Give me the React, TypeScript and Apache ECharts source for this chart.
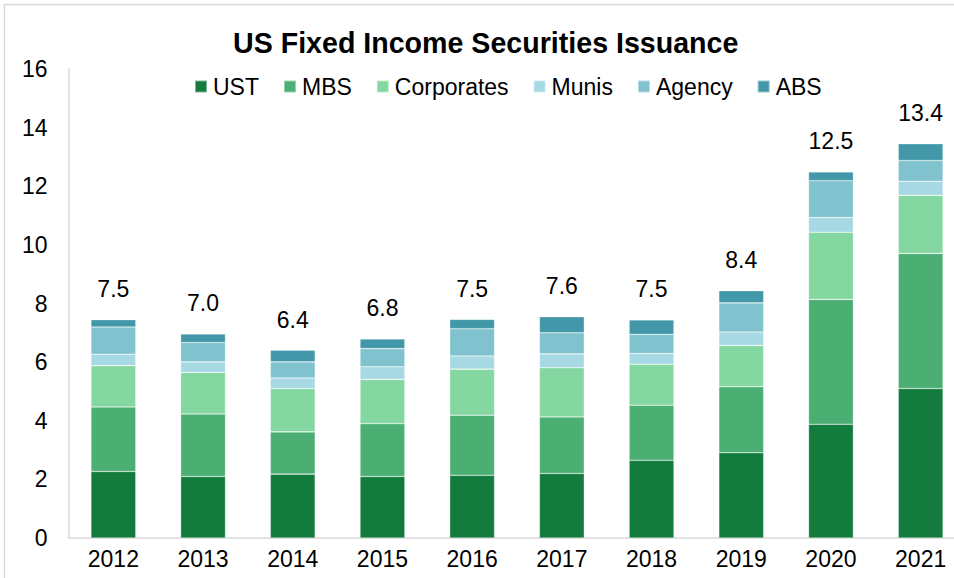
import React, { useEffect, useRef } from "react";
import * as echarts from "echarts";

const years = ["2012", "2013", "2014", "2015", "2016", "2017", "2018", "2019", "2020", "2021"];
const ust = [2.27, 2.10, 2.18, 2.10, 2.14, 2.20, 2.65, 2.91, 3.88, 5.10];
const mbs = [2.20, 2.13, 1.44, 1.80, 2.05, 1.93, 1.88, 2.25, 4.26, 4.61];
const corporates = [1.41, 1.42, 1.48, 1.51, 1.57, 1.68, 1.40, 1.41, 2.29, 1.98];
const munis = [0.39, 0.36, 0.36, 0.43, 0.45, 0.47, 0.36, 0.46, 0.50, 0.48];
const agency = [0.93, 0.66, 0.55, 0.62, 0.93, 0.72, 0.66, 0.99, 1.26, 0.71];
const abs = [0.25, 0.29, 0.40, 0.33, 0.32, 0.55, 0.49, 0.42, 0.30, 0.57];
const totals = ["7.5", "7.0", "6.4", "6.8", "7.5", "7.6", "7.5", "8.4", "12.5", "13.4"];
const seriesNames = ["UST", "MBS", "Corporates", "Munis", "Agency", "ABS"];
const seriesColors = ["#137B3D", "#4BAE72", "#85D7A1", "#A6D9E3", "#80C3CF", "#4298A8"];

export default function App() {
  const ref = useRef<HTMLDivElement>(null);
  useEffect(() => {
    if (!ref.current) return;
    const chart = echarts.init(ref.current, null, { renderer: "svg" });
    const dataSets = [ust, mbs, corporates, munis, agency, abs];
    const font = "'Liberation Sans', Arial, sans-serif";
    const series = dataSets.map((d, i) => ({
      name: seriesNames[i],
      type: "bar",
      stack: "total",
      data: d,
      barCategoryGap: "50%",
      itemStyle: {
        color: seriesColors[i],
        borderColor: "rgba(255,255,255,0.45)",
        borderWidth: 0.6,
      },
      label:
        i === dataSets.length - 1
          ? {
              show: true,
              position: "top",
              distance: 19,
              formatter: (p: any) => totals[p.dataIndex],
              color: "#000",
              fontSize: 23,
              fontFamily: font,
            }
          : { show: false },
    }));
    chart.setOption({
      animation: false,
      backgroundColor: "#fff",
      textStyle: { fontFamily: font },
      title: {
        text: "US Fixed Income Securities Issuance",
        left: 233,
        top: 28,
        padding: 0,
        textStyle: { fontSize: 28.6, fontWeight: "bold", color: "#000", fontFamily: font },
      },
      legend: {
        data: seriesNames,
        left: 194,
        top: 75,
        padding: 0,
        itemWidth: 12,
        itemHeight: 12,
        itemGap: 24,
        icon: "rect",
        textStyle: { fontSize: 23, color: "#000", fontFamily: font, padding: [0, 0, 0, 1] },
      },
      grid: { left: 68.5, top: 69, width: 897, height: 469, outerBoundsMode: "none", containLabel: false },
      xAxis: {
        type: "category",
        data: years,
        axisLine: { show: true, lineStyle: { color: "#d9d9d9", width: 1.5 } },
        axisTick: { show: false },
        axisLabel: { color: "#000", fontSize: 23, margin: 9, fontFamily: font },
      },
      yAxis: {
        type: "value",
        min: 0,
        max: 16,
        interval: 2,
        axisLine: { show: true, lineStyle: { color: "#d9d9d9", width: 1.5 } },
        axisTick: { show: false },
        splitLine: { show: false },
        axisLabel: { color: "#000", fontSize: 23, margin: 21, fontFamily: font },
      },
      graphic: [
        {
          type: "rect",
          shape: { x: 4.5, y: 4.5, width: 1000, height: 1000 },
          style: { fill: "none", stroke: "#d9d9d9", lineWidth: 1.5 },
          silent: true,
          z: -1,
        },
      ],
      series,
    });
    return () => chart.dispose();
  }, []);
  return (
    <div
      ref={ref}
      style={{ position: "absolute", left: 0, top: 0, width: 954, height: 578 }}
    />
  );
}
